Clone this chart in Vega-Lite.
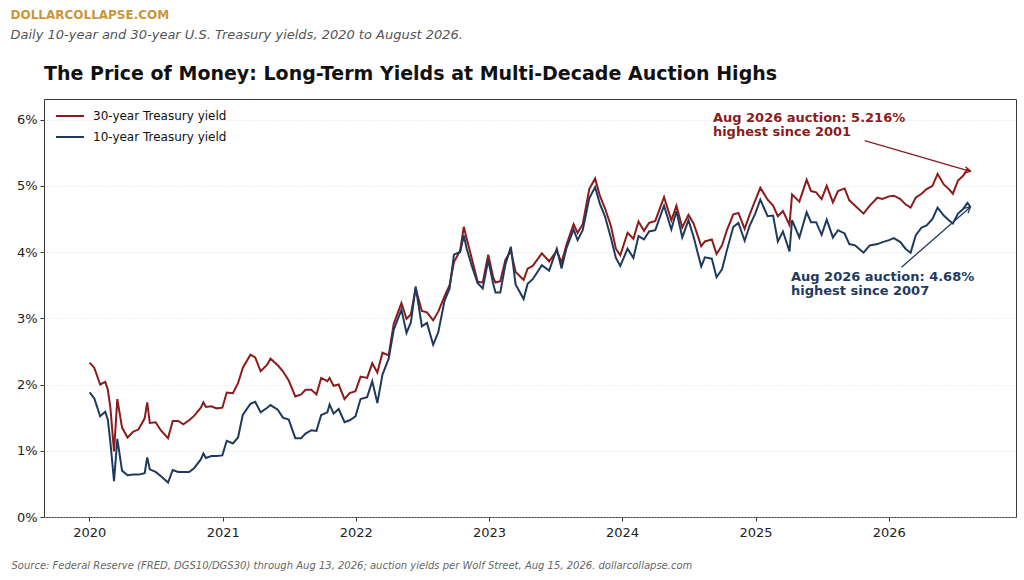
{
  "$schema": "https://vega.github.io/schema/vega-lite/v6.json",
  "background": "white",
  "padding": {"left": 10, "top": 8, "right": 9, "bottom": 6},
  "config": {
    "font": "DejaVu Sans",
    "view": {"stroke": "#3a3a3a", "strokeWidth": 1}
  },
  "title": {
    "text": "DOLLARCOLLAPSE.COM",
    "subtitle": "Daily 10-year and 30-year U.S. Treasury yields, 2020 to August 2026.",
    "anchor": "start",
    "frame": "bounds",
    "color": "#c9963c",
    "fontSize": 12,
    "fontWeight": "bold",
    "subtitleColor": "#555555",
    "subtitleFontSize": 13,
    "subtitleFontStyle": "italic",
    "subtitlePadding": 7,
    "offset": 22
  },
  "vconcat": [{
    "width": 972,
    "height": 418,
    "title": {
      "text": "The Price of Money: Long-Term Yields at Multi-Decade Auction Highs",
      "anchor": "start",
      "frame": "group",
      "fontSize": 19,
      "fontWeight": "bold",
      "color": "#111111",
      "offset": 15
    },
    "data": {"values": [
      {"date": "2020-01-02", "y30": 2.33, "y10": 1.88},
      {"date": "2020-01-15", "y30": 2.25, "y10": 1.79},
      {"date": "2020-01-31", "y30": 2.00, "y10": 1.52},
      {"date": "2020-02-14", "y30": 2.04, "y10": 1.59},
      {"date": "2020-02-21", "y30": 1.92, "y10": 1.47},
      {"date": "2020-02-28", "y30": 1.65, "y10": 1.13},
      {"date": "2020-03-09", "y30": 0.99, "y10": 0.54},
      {"date": "2020-03-18", "y30": 1.78, "y10": 1.18},
      {"date": "2020-03-31", "y30": 1.35, "y10": 0.70},
      {"date": "2020-04-15", "y30": 1.20, "y10": 0.63},
      {"date": "2020-05-01", "y30": 1.29, "y10": 0.64},
      {"date": "2020-05-15", "y30": 1.32, "y10": 0.64},
      {"date": "2020-06-01", "y30": 1.49, "y10": 0.66},
      {"date": "2020-06-08", "y30": 1.73, "y10": 0.90},
      {"date": "2020-06-15", "y30": 1.42, "y10": 0.72},
      {"date": "2020-07-01", "y30": 1.43, "y10": 0.68},
      {"date": "2020-07-15", "y30": 1.31, "y10": 0.62},
      {"date": "2020-08-04", "y30": 1.19, "y10": 0.52},
      {"date": "2020-08-17", "y30": 1.45, "y10": 0.71},
      {"date": "2020-09-01", "y30": 1.45, "y10": 0.68},
      {"date": "2020-09-15", "y30": 1.40, "y10": 0.68},
      {"date": "2020-10-01", "y30": 1.46, "y10": 0.68},
      {"date": "2020-10-15", "y30": 1.53, "y10": 0.74},
      {"date": "2020-11-02", "y30": 1.65, "y10": 0.87},
      {"date": "2020-11-09", "y30": 1.73, "y10": 0.96},
      {"date": "2020-11-16", "y30": 1.66, "y10": 0.89},
      {"date": "2020-12-01", "y30": 1.67, "y10": 0.92},
      {"date": "2020-12-15", "y30": 1.64, "y10": 0.92},
      {"date": "2020-12-31", "y30": 1.65, "y10": 0.93},
      {"date": "2021-01-12", "y30": 1.88, "y10": 1.15},
      {"date": "2021-01-29", "y30": 1.87, "y10": 1.11},
      {"date": "2021-02-12", "y30": 2.02, "y10": 1.20},
      {"date": "2021-02-25", "y30": 2.25, "y10": 1.54},
      {"date": "2021-03-18", "y30": 2.45, "y10": 1.71},
      {"date": "2021-03-31", "y30": 2.41, "y10": 1.74},
      {"date": "2021-04-15", "y30": 2.20, "y10": 1.58},
      {"date": "2021-05-03", "y30": 2.30, "y10": 1.65},
      {"date": "2021-05-12", "y30": 2.39, "y10": 1.69},
      {"date": "2021-06-01", "y30": 2.29, "y10": 1.62},
      {"date": "2021-06-15", "y30": 2.20, "y10": 1.50},
      {"date": "2021-07-01", "y30": 2.06, "y10": 1.47},
      {"date": "2021-07-19", "y30": 1.82, "y10": 1.19},
      {"date": "2021-08-04", "y30": 1.85, "y10": 1.19},
      {"date": "2021-08-16", "y30": 1.92, "y10": 1.26},
      {"date": "2021-09-01", "y30": 1.92, "y10": 1.31},
      {"date": "2021-09-15", "y30": 1.85, "y10": 1.30},
      {"date": "2021-09-28", "y30": 2.10, "y10": 1.54},
      {"date": "2021-10-15", "y30": 2.05, "y10": 1.58},
      {"date": "2021-10-21", "y30": 2.10, "y10": 1.70},
      {"date": "2021-11-01", "y30": 1.98, "y10": 1.56},
      {"date": "2021-11-15", "y30": 2.00, "y10": 1.63},
      {"date": "2021-12-01", "y30": 1.78, "y10": 1.43},
      {"date": "2021-12-15", "y30": 1.87, "y10": 1.46},
      {"date": "2021-12-31", "y30": 1.90, "y10": 1.52},
      {"date": "2022-01-14", "y30": 2.12, "y10": 1.78},
      {"date": "2022-02-01", "y30": 2.10, "y10": 1.81},
      {"date": "2022-02-15", "y30": 2.32, "y10": 2.05},
      {"date": "2022-03-01", "y30": 2.18, "y10": 1.72},
      {"date": "2022-03-15", "y30": 2.48, "y10": 2.15},
      {"date": "2022-04-01", "y30": 2.44, "y10": 2.39},
      {"date": "2022-04-15", "y30": 2.92, "y10": 2.83},
      {"date": "2022-05-06", "y30": 3.23, "y10": 3.13},
      {"date": "2022-05-20", "y30": 2.99, "y10": 2.78},
      {"date": "2022-06-01", "y30": 3.06, "y10": 2.94},
      {"date": "2022-06-14", "y30": 3.45, "y10": 3.48},
      {"date": "2022-07-01", "y30": 3.11, "y10": 2.88},
      {"date": "2022-07-15", "y30": 3.09, "y10": 2.93},
      {"date": "2022-08-01", "y30": 2.97, "y10": 2.60},
      {"date": "2022-08-15", "y30": 3.10, "y10": 2.79},
      {"date": "2022-09-01", "y30": 3.33, "y10": 3.26},
      {"date": "2022-09-15", "y30": 3.50, "y10": 3.45},
      {"date": "2022-09-27", "y30": 3.85, "y10": 3.96},
      {"date": "2022-10-14", "y30": 4.02, "y10": 4.00},
      {"date": "2022-10-24", "y30": 4.38, "y10": 4.25},
      {"date": "2022-11-01", "y30": 4.20, "y10": 4.05},
      {"date": "2022-11-15", "y30": 3.90, "y10": 3.79},
      {"date": "2022-12-01", "y30": 3.55, "y10": 3.53},
      {"date": "2022-12-15", "y30": 3.54, "y10": 3.45},
      {"date": "2022-12-30", "y30": 3.96, "y10": 3.88},
      {"date": "2023-01-13", "y30": 3.61, "y10": 3.51},
      {"date": "2023-01-19", "y30": 3.54, "y10": 3.39},
      {"date": "2023-02-01", "y30": 3.56, "y10": 3.39},
      {"date": "2023-02-15", "y30": 3.88, "y10": 3.81},
      {"date": "2023-03-02", "y30": 4.02, "y10": 4.08},
      {"date": "2023-03-15", "y30": 3.70, "y10": 3.51},
      {"date": "2023-04-06", "y30": 3.58, "y10": 3.29},
      {"date": "2023-04-17", "y30": 3.75, "y10": 3.52},
      {"date": "2023-05-01", "y30": 3.79, "y10": 3.59},
      {"date": "2023-05-26", "y30": 3.98, "y10": 3.80},
      {"date": "2023-06-15", "y30": 3.86, "y10": 3.72},
      {"date": "2023-07-06", "y30": 4.02, "y10": 4.05},
      {"date": "2023-07-19", "y30": 3.84, "y10": 3.75},
      {"date": "2023-08-01", "y30": 4.10, "y10": 4.05},
      {"date": "2023-08-21", "y30": 4.42, "y10": 4.34},
      {"date": "2023-09-01", "y30": 4.29, "y10": 4.18},
      {"date": "2023-09-15", "y30": 4.42, "y10": 4.33},
      {"date": "2023-10-03", "y30": 4.95, "y10": 4.81},
      {"date": "2023-10-19", "y30": 5.11, "y10": 4.98},
      {"date": "2023-11-01", "y30": 4.85, "y10": 4.73},
      {"date": "2023-11-15", "y30": 4.66, "y10": 4.54},
      {"date": "2023-12-01", "y30": 4.40, "y10": 4.22},
      {"date": "2023-12-15", "y30": 4.05, "y10": 3.91},
      {"date": "2023-12-27", "y30": 3.95, "y10": 3.79},
      {"date": "2024-01-16", "y30": 4.29, "y10": 4.05},
      {"date": "2024-02-01", "y30": 4.20, "y10": 3.91},
      {"date": "2024-02-15", "y30": 4.46, "y10": 4.24},
      {"date": "2024-03-01", "y30": 4.32, "y10": 4.19},
      {"date": "2024-03-15", "y30": 4.44, "y10": 4.31},
      {"date": "2024-04-01", "y30": 4.47, "y10": 4.33},
      {"date": "2024-04-25", "y30": 4.83, "y10": 4.70},
      {"date": "2024-05-15", "y30": 4.48, "y10": 4.34},
      {"date": "2024-05-29", "y30": 4.70, "y10": 4.62},
      {"date": "2024-06-14", "y30": 4.37, "y10": 4.22},
      {"date": "2024-07-01", "y30": 4.56, "y10": 4.48},
      {"date": "2024-07-15", "y30": 4.43, "y10": 4.23},
      {"date": "2024-08-05", "y30": 4.09, "y10": 3.78},
      {"date": "2024-08-15", "y30": 4.16, "y10": 3.92},
      {"date": "2024-09-03", "y30": 4.19, "y10": 3.90},
      {"date": "2024-09-16", "y30": 3.97, "y10": 3.62},
      {"date": "2024-10-01", "y30": 4.10, "y10": 3.74},
      {"date": "2024-10-15", "y30": 4.34, "y10": 4.04},
      {"date": "2024-11-01", "y30": 4.57, "y10": 4.38},
      {"date": "2024-11-15", "y30": 4.59, "y10": 4.44},
      {"date": "2024-12-02", "y30": 4.35, "y10": 4.17},
      {"date": "2024-12-16", "y30": 4.57, "y10": 4.40},
      {"date": "2024-12-31", "y30": 4.78, "y10": 4.58},
      {"date": "2025-01-14", "y30": 4.97, "y10": 4.79},
      {"date": "2025-02-03", "y30": 4.79, "y10": 4.54},
      {"date": "2025-02-18", "y30": 4.70, "y10": 4.55},
      {"date": "2025-03-03", "y30": 4.54, "y10": 4.16},
      {"date": "2025-03-17", "y30": 4.62, "y10": 4.31},
      {"date": "2025-04-04", "y30": 4.41, "y10": 4.01},
      {"date": "2025-04-11", "y30": 4.87, "y10": 4.48},
      {"date": "2025-05-01", "y30": 4.76, "y10": 4.22},
      {"date": "2025-05-21", "y30": 5.09, "y10": 4.60},
      {"date": "2025-06-02", "y30": 4.92, "y10": 4.45},
      {"date": "2025-06-16", "y30": 4.90, "y10": 4.45},
      {"date": "2025-07-01", "y30": 4.80, "y10": 4.26},
      {"date": "2025-07-15", "y30": 5.00, "y10": 4.49},
      {"date": "2025-08-01", "y30": 4.75, "y10": 4.22},
      {"date": "2025-08-15", "y30": 4.92, "y10": 4.33},
      {"date": "2025-09-02", "y30": 4.96, "y10": 4.28},
      {"date": "2025-09-15", "y30": 4.78, "y10": 4.12},
      {"date": "2025-10-01", "y30": 4.70, "y10": 4.10},
      {"date": "2025-10-24", "y30": 4.58, "y10": 3.99},
      {"date": "2025-11-10", "y30": 4.70, "y10": 4.10},
      {"date": "2025-12-01", "y30": 4.82, "y10": 4.12},
      {"date": "2025-12-15", "y30": 4.80, "y10": 4.15},
      {"date": "2026-01-02", "y30": 4.84, "y10": 4.18},
      {"date": "2026-01-15", "y30": 4.85, "y10": 4.21},
      {"date": "2026-02-02", "y30": 4.80, "y10": 4.15},
      {"date": "2026-02-16", "y30": 4.72, "y10": 4.05},
      {"date": "2026-03-02", "y30": 4.67, "y10": 3.99},
      {"date": "2026-03-16", "y30": 4.82, "y10": 4.25},
      {"date": "2026-04-01", "y30": 4.88, "y10": 4.37},
      {"date": "2026-04-15", "y30": 4.95, "y10": 4.40},
      {"date": "2026-05-01", "y30": 5.00, "y10": 4.50},
      {"date": "2026-05-15", "y30": 5.18, "y10": 4.67},
      {"date": "2026-06-01", "y30": 5.02, "y10": 4.55},
      {"date": "2026-06-15", "y30": 4.95, "y10": 4.48},
      {"date": "2026-06-26", "y30": 4.88, "y10": 4.43},
      {"date": "2026-07-10", "y30": 5.08, "y10": 4.58},
      {"date": "2026-07-24", "y30": 5.15, "y10": 4.65},
      {"date": "2026-08-05", "y30": 5.25, "y10": 4.74},
      {"date": "2026-08-13", "y30": 5.22, "y10": 4.68}
    ]},
    "layer": [
      {
        "transform": [{"fold": ["y30", "y10"], "as": ["series", "yield"]}],
        "mark": {"type": "line", "strokeWidth": 2},
        "encoding": {
          "x": {
            "field": "date",
            "type": "temporal",
            "scale": {"domain": ["2019-08-30", "2026-12-16"]},
            "axis": {
              "format": "%Y",
              "tickCount": {"interval": "year", "step": 1},
              "grid": false,
              "domain": false,
              "tickSize": 4,
              "tickColor": "#333333",
              "labelFontSize": 13,
              "labelColor": "#222222",
              "labelPadding": 5,
              "title": "Source: Federal Reserve (FRED, DGS10/DGS30) through Aug 13, 2026; auction yields per Wolf Street, Aug 15, 2026. dollarcollapse.com",
              "titleFontSize": 10,
              "titleFontStyle": "italic",
              "titleFontWeight": "normal",
              "titleColor": "#666666",
              "titleAnchor": "start",
              "titleAlign": "left",
              "titleBaseline": "alphabetic",
              "titleX": -33,
              "titleY": 51
            }
          },
          "y": {
            "field": "yield",
            "type": "quantitative",
            "scale": {"domain": [0, 6.31], "nice": false},
            "axis": {
              "values": [0, 1, 2, 3, 4, 5, 6],
              "labelExpr": "datum.value + '%'",
              "grid": true,
              "gridColor": "#d9d9d9",
              "gridDash": [1, 2],
              "gridWidth": 0.8,
              "domain": false,
              "tickSize": 4,
              "tickColor": "#333333",
              "labelFontSize": 13,
              "labelColor": "#222222",
              "labelPadding": 3,
              "title": null
            }
          },
          "color": {
            "field": "series",
            "type": "nominal",
            "scale": {"domain": ["y30", "y10"], "range": ["#8c1c1c", "#1f3a5f"]},
            "legend": {
              "orient": "none",
              "legendX": 11,
              "legendY": 2,
              "padding": 0,
              "title": null,
              "symbolType": "stroke",
              "symbolSize": 784,
              "symbolStrokeWidth": 2,
              "labelFontSize": 12,
              "labelColor": "#111111",
              "labelOffset": 8,
              "rowPadding": -7,
              "labelLimit": 300,
              "labelExpr": "datum.value == 'y30' ? '30-year Treasury yield' : '10-year Treasury yield'"
            }
          }
        }
      },
      {
        "data": {"values": [
          {"date": "2025-10-27", "y": 5.68, "date2": "2026-08-13", "y2": 5.216}
        ]},
        "layer": [
          {
            "mark": {"type": "rule", "color": "#8c1c1c", "strokeWidth": 1.3},
            "encoding": {
              "x": {"field": "date", "type": "temporal"},
              "y": {"field": "y", "type": "quantitative"},
              "x2": {"field": "date2"},
              "y2": {"field": "y2"}
            }
          },
          {
            "mark": {"type": "point", "shape": "M -1 -0.55 L 0 0 L -1 0.55", "filled": false, "stroke": "#8c1c1c", "strokeWidth": 1.3, "opacity": 1, "size": 140, "angle": 15},
            "encoding": {
              "x": {"field": "date2", "type": "temporal"},
              "y": {"field": "y2", "type": "quantitative"}
            }
          }
        ]
      },
      {
        "data": {"values": [
          {"date": "2026-02-05", "y": 3.77, "date2": "2026-08-13", "y2": 4.68}
        ]},
        "layer": [
          {
            "mark": {"type": "rule", "color": "#1f3a5f", "strokeWidth": 1.3},
            "encoding": {
              "x": {"field": "date", "type": "temporal"},
              "y": {"field": "y", "type": "quantitative"},
              "x2": {"field": "date2"},
              "y2": {"field": "y2"}
            }
          },
          {
            "mark": {"type": "point", "shape": "M -1 -0.55 L 0 0 L -1 0.55", "filled": false, "stroke": "#1f3a5f", "strokeWidth": 1.3, "opacity": 1, "size": 140, "angle": 320},
            "encoding": {
              "x": {"field": "date2", "type": "temporal"},
              "y": {"field": "y2", "type": "quantitative"}
            }
          }
        ]
      },
      {
        "data": {"values": [
          {"date": "2024-09-06", "y": 5.956, "label": "Aug 2026 auction: 5.216%\nhighest since 2001"}
        ]},
        "mark": {"type": "text", "align": "left", "baseline": "alphabetic", "lineBreak": "\n", "lineHeight": 14, "fontSize": 13, "fontWeight": "bold", "color": "#8c1c1c"},
        "encoding": {
          "x": {"field": "date", "type": "temporal"},
          "y": {"field": "y", "type": "quantitative"},
          "text": {"field": "label"}
        }
      },
      {
        "data": {"values": [
          {"date": "2025-04-08", "y": 3.565, "label": "Aug 2026 auction: 4.68%\nhighest since 2007"}
        ]},
        "mark": {"type": "text", "align": "left", "baseline": "alphabetic", "lineBreak": "\n", "lineHeight": 14, "fontSize": 13, "fontWeight": "bold", "color": "#1f3a5f"},
        "encoding": {
          "x": {"field": "date", "type": "temporal"},
          "y": {"field": "y", "type": "quantitative"},
          "text": {"field": "label"}
        }
      }
    ]
  }]
}
